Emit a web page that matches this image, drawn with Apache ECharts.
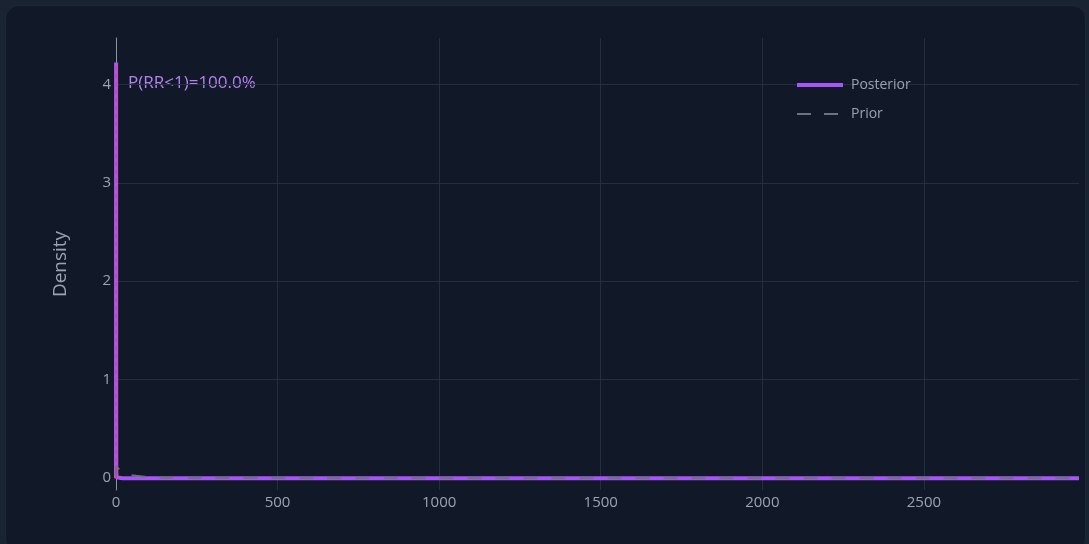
<!DOCTYPE html>
<html>
<head>
<meta charset="utf-8">
<script src="https://cdn.jsdelivr.net/npm/echarts@6/dist/echarts.min.js"></script>
<style>
  html, body { margin: 0; padding: 0; width: 1089px; height: 544px; background: #1a2332; overflow: hidden; }
  #card { position: absolute; left: 5px; top: 5px; width: 1081px; height: 548px; background: #111827; border-radius: 14px; border: 1px solid #1c2636; box-sizing: border-box; }
  #chart { position: absolute; left: 0; top: 0; width: 1089px; height: 544px; }
</style>
</head>
<body>
<div id="card"></div>
<div id="chart"></div>
<script>
// ---- data ----
const posteriorX = [0, 0.05, 0.1, 0.2, 0.3, 0.4, 0.5, 0.6, 0.8, 1, 1.5, 2, 5, 20, 100, 500, 1000, 1500, 2000, 2500, 2980];
const posteriorY = [0, 0.3, 1.6, 3.6, 4.22, 3.5, 2.2, 1.1, 0.3, 0.08, 0.01, 0, 0, 0, 0, 0, 0, 0, 0, 0, 0];
const priorX = [0.05, 0.5, 1, 2, 4, 8, 15, 25, 37, 60, 100, 200, 400, 800, 1500, 2980];
const priorY = [0.02, 0.12, 0.125, 0.12, 0.11, 0.095, 0.075, 0.055, 0.04, 0.025, 0.012, 0.004, 0.001, 0, 0, 0];
const rrLineX = [1, 1];
const rrLineY = [0, 4.22];
const annotationText = 'P(RR<1)=100.0%';
const seriesNames = ['Posterior', 'Prior'];
const xRange = [0, 2980];
const yRange = [-0.12, 4.47];

const zip = (xs, ys) => xs.map((x, i) => [x, ys[i]]);
const FONT = '"Open Sans", "Noto Sans", sans-serif';
const TXT = '#9ca3af';
const GRID = '#232f3f';
const PURPLE = '#a855f7';
const GRAY = '#6b7280';

const chart = echarts.init(document.getElementById('chart'), null, { renderer: 'canvas' });
chart.setOption({
  backgroundColor: 'transparent',
  animation: false,
  textStyle: { fontFamily: FONT },
  grid: { left: 116, right: 10, top: 38, bottom: 54, containLabel: false },
  legend: {
    orient: 'vertical', left: 790, top: 73, itemWidth: 46, itemHeight: 14, itemGap: 15,
    itemStyle: { opacity: 0 },
    data: [
      { name: seriesNames[0], itemStyle: { opacity: 0 }, lineStyle: { color: PURPLE, width: 4, type: 'solid' } },
      { name: seriesNames[1], itemStyle: { opacity: 0 }, lineStyle: { color: GRAY, width: 2, type: [14, 13] } }
    ],
    textStyle: { color: TXT, fontSize: 14, fontFamily: FONT, padding: [0, 0, 0, 3] }
  },
  xAxis: {
    type: 'value', min: xRange[0], max: xRange[1],
    axisLine: { show: false }, axisTick: { show: false },
    axisLabel: { color: TXT, fontSize: 15, margin: 5, showMaxLabel: false, fontFamily: FONT, formatter: v => String(v) },
    splitLine: { show: true, showMinLine: false, showMaxLine: false, lineStyle: { color: GRID, width: 1 } }
  },
  yAxis: {
    type: 'value', min: yRange[0], max: yRange[1],
    name: 'Density', nameLocation: 'middle', nameGap: 46, nameRotate: 90,
    nameTextStyle: { color: TXT, fontSize: 19, fontFamily: FONT },
    axisLine: { show: true, onZero: false, lineStyle: { color: '#8b95a5', width: 1 } },
    axisTick: { show: false },
    axisLabel: { color: TXT, fontSize: 15, margin: 5, showMinLabel: false, showMaxLabel: false, fontFamily: FONT },
    splitLine: { show: true, showMinLine: false, showMaxLine: false, lineStyle: { color: GRID, width: 1 } }
  },
  series: [
    {
      name: seriesNames[0], type: 'line', data: zip(posteriorX, posteriorY),
      showSymbol: false, symbol: 'none', smooth: false,
      lineStyle: { color: PURPLE, width: 4 }, itemStyle: { color: PURPLE }
    },
    {
      name: seriesNames[1], type: 'line', data: zip(priorX, priorY),
      showSymbol: false, symbol: 'none', smooth: true,
      lineStyle: { color: GRAY, width: 2, type: [14, 14] }, itemStyle: { color: GRAY }
    },
    {
      name: 'RR=1', type: 'line', data: zip(rrLineX, rrLineY),
      showSymbol: false, symbol: 'none', silent: true,
      lineStyle: { color: '#ef4444', width: 1.5, type: [4, 4] }
    }
  ],
  graphic: [
    { type: 'text', left: 128, top: 75, style: { text: annotationText, fill: '#b583f0', fontSize: 17, fontFamily: FONT } }
  ]
});
</script>
</body>
</html>
